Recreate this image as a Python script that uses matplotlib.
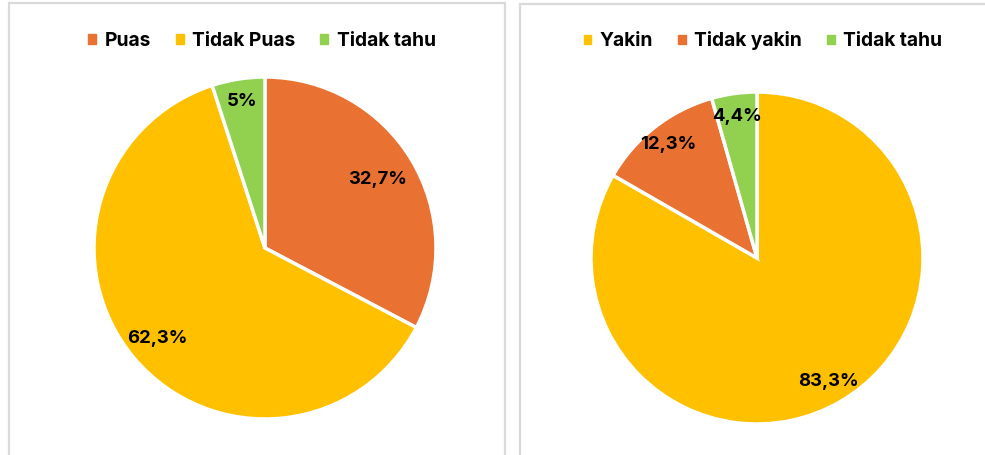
import matplotlib.pyplot as plt
import numpy as np
from matplotlib.patches import Rectangle

plt.rcParams['font.family'] = ['Inter', 'DejaVu Sans']

# left chart: kepuasan
left_labels = ['Puas', 'Tidak Puas', 'Tidak tahu']
left_values = [32.7, 62.3, 5.0]
left_text = ['32,7%', '62,3%', '5%']
left_colors = ['#E97132', '#FFC000', '#92D050']

# right chart: keyakinan
right_labels = ['Yakin', 'Tidak yakin', 'Tidak tahu']
right_values = [83.3, 12.3, 4.4]
right_text = ['83,3%', '12,3%', '4,4%']
right_colors = ['#FFC000', '#E97132', '#92D050']

W, H = 985, 455
fig = plt.figure(figsize=(W / 100, H / 100), dpi=100)

# panel borders
for x0, x1, y0 in [(9, 505, 3), (520, 995, 4)]:
    fig.patches.append(Rectangle((x0 / W, -0.05), (x1 - x0) / W, 1.05 - y0 / H,
                                 transform=fig.transFigure, facecolor='none',
                                 edgecolor='#d9d9d9', linewidth=1.6, zorder=0))


def draw_pie(cx, cy, r, values, labels, texts, colors, legend_x, lab_dist):
    ax = fig.add_axes([(cx - r) / W, (H - cy - r) / H, 2 * r / W, 2 * r / H])
    wedges, _ = ax.pie(values, colors=colors, startangle=90, counterclock=False,
                       wedgeprops=dict(edgecolor='white', linewidth=2.5))
    ax.set_xlim(-1, 1)
    ax.set_ylim(-1, 1)
    for w, t, d in zip(wedges, texts, lab_dist):
        ang = np.deg2rad((w.theta1 + w.theta2) / 2)
        ax.text(d * np.cos(ang), d * np.sin(ang), t, ha='center', va='center',
                fontsize=13.3, fontweight='bold', color='black')
    handles = [plt.Rectangle((0, 0), 1, 1, color=c) for c in colors]
    fig.legend(handles, labels, loc='center', bbox_to_anchor=(legend_x / W, 1 - 41 / H),
               ncol=3, frameon=False, handlelength=0.4, handleheight=0.4,
               handletextpad=0.45, columnspacing=1.3,
               prop=dict(size=13.8, weight='bold'))
    return ax


draw_pie(265, 248, 171, left_values, left_labels, left_text, left_colors, 262,
         [0.77, 0.82, 0.87])
draw_pie(757, 258, 166, right_values, right_labels, right_text, right_colors, 763,
         [0.86, 0.87, 0.86])

fig.savefig('out.png', dpi=100)
